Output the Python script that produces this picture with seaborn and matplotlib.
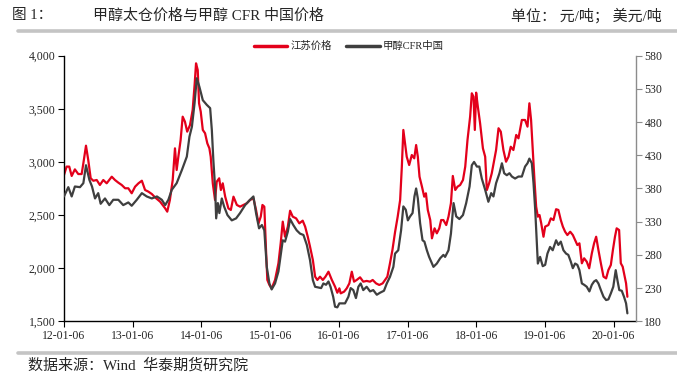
import pandas as pd
import matplotlib
matplotlib.use("Agg")
import matplotlib.pyplot as plt
import matplotlib.dates as mdates
from matplotlib.ticker import FuncFormatter, MultipleLocator
from matplotlib.lines import Line2D
import seaborn as sns

# 江苏价格 (元/吨, left axis)
js_dates = [
    "2012-01-06", "2012-01-20", "2012-02-03", "2012-02-16", "2012-03-04", "2012-03-22", "2012-04-09",
    "2012-04-18", "2012-05-02", "2012-05-14", "2012-05-27", "2012-06-10", "2012-06-28", "2012-07-15",
    "2012-08-02", "2012-08-20", "2012-09-16", "2012-10-03", "2012-10-21", "2012-11-08", "2012-11-26",
    "2012-12-13", "2012-12-31", "2013-01-18", "2013-02-05", "2013-02-23", "2013-03-12", "2013-03-30",
    "2013-04-17", "2013-05-05", "2013-05-31", "2013-06-27", "2013-07-08", "2013-07-22", "2013-08-06",
    "2013-08-18", "2013-08-27", "2013-09-05", "2013-09-17", "2013-09-28", "2013-10-10", "2013-10-22",
    "2013-11-06", "2013-11-20", "2013-12-01", "2013-12-08", "2013-12-17", "2013-12-24", "2014-01-02",
    "2014-01-13", "2014-01-25", "2014-02-06", "2014-02-17", "2014-02-24", "2014-03-07", "2014-03-19",
    "2014-03-28", "2014-04-10", "2014-04-19", "2014-04-29", "2014-05-12", "2014-05-29", "2014-06-11",
    "2014-06-25", "2014-07-13", "2014-07-30", "2014-08-17", "2014-09-04", "2014-09-21", "2014-10-09",
    "2014-10-23", "2014-11-05", "2014-11-17", "2014-11-26", "2014-12-06", "2014-12-15", "2014-12-22",
    "2015-01-02", "2015-01-14", "2015-02-01", "2015-02-19", "2015-03-03", "2015-03-14", "2015-03-26",
    "2015-04-10", "2015-04-22", "2015-05-06", "2015-05-24", "2015-06-10", "2015-06-28", "2015-07-11",
    "2015-07-25", "2015-08-06", "2015-08-21", "2015-09-02", "2015-09-14", "2015-09-28", "2015-10-13",
    "2015-10-27", "2015-11-12", "2015-11-30", "2015-12-17", "2015-12-29", "2016-01-09", "2016-01-16",
    "2016-02-03", "2016-02-17", "2016-03-02", "2016-03-15", "2016-03-27", "2016-04-10", "2016-04-28",
    "2016-05-15", "2016-06-02", "2016-06-20", "2016-07-04", "2016-07-22", "2016-08-08", "2016-08-26",
    "2016-09-08", "2016-09-20", "2016-10-04", "2016-10-17", "2016-10-31", "2016-11-14", "2016-11-27",
    "2016-12-06", "2016-12-14", "2016-12-23", "2017-01-01", "2017-01-14", "2017-01-28", "2017-02-10",
    "2017-02-20", "2017-03-01", "2017-03-10", "2017-03-23", "2017-04-04", "2017-04-13", "2017-04-23",
    "2017-05-06", "2017-05-15", "2017-05-29", "2017-06-10", "2017-06-23", "2017-07-03", "2017-07-15",
    "2017-07-30", "2017-08-11", "2017-08-24", "2017-09-03", "2017-09-16", "2017-09-28", "2017-10-12",
    "2017-10-27", "2017-11-08", "2017-11-20", "2017-12-04", "2017-12-13", "2017-12-22", "2017-12-29",
    "2018-01-05", "2018-01-14", "2018-01-26", "2018-02-10", "2018-02-22", "2018-03-03", "2018-03-15",
    "2018-03-29", "2018-04-11", "2018-04-21", "2018-05-04", "2018-05-16", "2018-05-30", "2018-06-13",
    "2018-06-26", "2018-07-08", "2018-07-22", "2018-08-06", "2018-08-18", "2018-09-05", "2018-09-22",
    "2018-10-05", "2018-10-15", "2018-10-24", "2018-11-02", "2018-11-11", "2018-11-20", "2018-11-29",
    "2018-12-08", "2018-12-17", "2018-12-29", "2019-01-07", "2019-01-24", "2019-02-06", "2019-02-20",
    "2019-03-06", "2019-03-18", "2019-03-31", "2019-04-11", "2019-04-23", "2019-05-05", "2019-05-20",
    "2019-06-03", "2019-06-15", "2019-06-27", "2019-07-08", "2019-07-21", "2019-08-02", "2019-08-16",
    "2019-08-29", "2019-09-12", "2019-09-24", "2019-10-05", "2019-10-17", "2019-10-30", "2019-11-13",
    "2019-11-27", "2019-12-09", "2019-12-22", "2020-01-02", "2020-01-13", "2020-01-22", "2020-02-04",
    "2020-02-13", "2020-02-23", "2020-03-05", "2020-03-12", "2020-03-19",
]
js_vals = [
    2877, 2956, 2956, 2868, 2930, 2886, 2886,
    2987, 3153, 3018, 2846, 2823, 2830, 2783,
    2830, 2799, 2861, 2830, 2805, 2783, 2752,
    2752, 2705, 2767, 2799, 2823, 2736, 2720,
    2698, 2665, 2626, 2563, 2532, 2642, 2830,
    3128, 2924, 3049, 3206, 3426, 3379, 3285,
    3348, 3489, 3740, 3928, 3865, 3552, 3473,
    3301, 3270, 3175, 3128, 3049, 2799, 2642,
    2814, 2846, 2736, 2799, 2673, 2563, 2548,
    2673, 2595, 2579, 2595, 2611, 2642, 2658,
    2548, 2422, 2485, 2595, 2579, 2171, 1889,
    1842, 1810, 1889, 2046, 2234, 2438, 2296,
    2391, 2541, 2485, 2469, 2422, 2447, 2391,
    2296, 2202, 2077, 1920, 1889, 1920, 1889,
    1920, 1967, 1889, 1826, 1769, 1810, 1763,
    1779, 1810, 1857, 1967, 1873, 1889, 1914,
    1873, 1880, 1873, 1889, 1857, 1842, 1857,
    1889, 1920, 2046, 2171, 2340, 2485, 2642,
    2955, 3301, 3175, 3049, 2971, 3065, 3034,
    3159, 3049, 2861, 2767, 2673, 2705, 2548,
    2453, 2281, 2375, 2328, 2375, 2453, 2453,
    2406, 2485, 2611, 2868, 2736, 2767, 2783,
    2830, 2955, 3206, 3426, 3646, 3614, 3301,
    3652, 3520, 3364, 3128, 3049, 2736, 2799,
    2893, 3018, 3112, 3317, 3285, 3112, 3002,
    3049, 3143, 3112, 3254, 3222, 3395, 3395,
    3332, 3552, 3395, 3112, 2830, 2579, 2485,
    2500, 2422, 2296, 2391, 2406, 2469, 2453,
    2555, 2548, 2453, 2391, 2343, 2312, 2343,
    2312, 2265, 2218, 2234, 2046, 2093, 2061,
    1999, 2140, 2234, 2296, 2171, 2046, 1920,
    1904, 1983, 2030, 2171, 2296, 2375, 2359,
    2046, 2014, 1920, 1857, 1731,
]

# 甲醇CFR中国 (美元/吨, right axis)
cfr_dates = [
    "2012-01-06", "2012-01-29", "2012-02-16", "2012-03-04", "2012-03-31", "2012-04-18", "2012-05-02",
    "2012-05-20", "2012-06-03", "2012-06-19", "2012-07-06", "2012-07-19", "2012-08-11", "2012-09-03",
    "2012-09-24", "2012-10-21", "2012-11-16", "2012-12-13", "2012-12-31", "2013-01-27", "2013-02-23",
    "2013-03-21", "2013-04-17", "2013-05-14", "2013-06-09", "2013-06-27", "2013-07-14", "2013-08-01",
    "2013-08-27", "2013-09-24", "2013-10-20", "2013-11-03", "2013-11-16", "2013-11-30", "2013-12-12",
    "2013-12-26", "2014-01-13", "2014-02-03", "2014-02-21", "2014-03-02", "2014-03-10", "2014-03-19",
    "2014-03-25", "2014-04-03", "2014-04-11", "2014-04-24", "2014-05-06", "2014-05-24", "2014-06-16",
    "2014-07-09", "2014-07-30", "2014-08-26", "2014-09-21", "2014-10-09", "2014-10-23", "2014-11-08",
    "2014-11-23", "2014-12-06", "2014-12-19", "2015-01-02", "2015-01-14", "2015-02-01", "2015-02-19",
    "2015-03-03", "2015-03-14", "2015-03-26", "2015-04-10", "2015-04-22", "2015-05-09", "2015-05-27",
    "2015-06-14", "2015-07-02", "2015-07-20", "2015-08-06", "2015-08-21", "2015-09-02", "2015-09-19",
    "2015-10-04", "2015-10-16", "2015-10-30", "2015-11-12", "2015-11-23", "2015-12-07", "2015-12-17",
    "2015-12-29", "2016-01-09", "2016-02-08", "2016-02-26", "2016-03-09", "2016-03-23", "2016-04-06",
    "2016-04-19", "2016-05-01", "2016-05-15", "2016-06-02", "2016-06-20", "2016-07-07", "2016-07-26",
    "2016-08-12", "2016-09-02", "2016-09-17", "2016-10-04", "2016-10-22", "2016-10-31", "2016-11-17",
    "2016-12-02", "2016-12-14", "2016-12-27", "2017-01-07", "2017-01-19", "2017-02-01", "2017-02-11",
    "2017-02-20", "2017-03-01", "2017-03-13", "2017-03-26", "2017-04-05", "2017-04-18", "2017-04-30",
    "2017-05-11", "2017-05-23", "2017-06-10", "2017-06-28", "2017-07-15", "2017-07-24", "2017-08-11",
    "2017-08-24", "2017-09-07", "2017-09-21", "2017-10-08", "2017-10-27", "2017-11-13", "2017-12-01",
    "2017-12-13", "2017-12-25", "2018-01-09", "2018-01-22", "2018-02-04", "2018-02-22", "2018-03-11",
    "2018-03-26", "2018-04-07", "2018-04-21", "2018-05-09", "2018-05-22", "2018-06-03", "2018-06-17",
    "2018-07-01", "2018-07-14", "2018-07-31", "2018-08-18", "2018-09-05", "2018-09-22", "2018-10-05",
    "2018-10-15", "2018-10-28", "2018-11-06", "2018-11-15", "2018-11-24", "2018-11-29", "2018-12-11",
    "2018-12-25", "2019-01-07", "2019-01-19", "2019-02-02", "2019-02-16", "2019-03-06", "2019-03-18",
    "2019-03-31", "2019-04-14", "2019-04-28", "2019-05-10", "2019-05-23", "2019-06-03", "2019-06-15",
    "2019-06-27", "2019-07-08", "2019-07-21", "2019-08-02", "2019-08-16", "2019-08-30", "2019-09-12",
    "2019-09-24", "2019-10-05", "2019-10-17", "2019-10-30", "2019-11-13", "2019-11-27", "2019-12-09",
    "2019-12-22", "2020-01-04", "2020-01-17", "2020-01-26", "2020-02-05", "2020-02-18", "2020-03-01",
    "2020-03-12", "2020-03-19",
]
cfr_vals = [
    368, 382, 368, 383, 382, 388, 415,
    393, 383, 365, 373, 357, 365, 355,
    363, 363, 355, 359, 354, 363, 373,
    368, 365, 368, 363, 355, 363, 378,
    388, 408, 428, 458, 473, 508, 546,
    533, 513, 506, 501, 468, 423, 383,
    335, 358, 343, 365, 353, 340, 332,
    335, 343, 355, 363, 368, 343, 320,
    325, 317, 262, 237, 228, 237, 255,
    280, 302, 300, 315, 334, 325, 317,
    312, 310, 295, 272, 242, 232, 231,
    230, 237, 235, 240, 232, 217, 202,
    201, 207, 207, 217, 230, 227, 215,
    232, 237, 227, 232, 225, 227, 220,
    223, 226, 237, 247, 262, 282, 287,
    317, 353, 348, 332, 338, 343, 368,
    380, 365, 328, 302, 300, 287, 277,
    270, 262, 267, 275, 280, 277, 287,
    312, 358, 338, 334, 340, 358, 383,
    415, 420, 413, 413, 395, 378, 360,
    373, 368, 388, 403, 418, 403, 400,
    403, 398, 395, 398, 398, 413, 418,
    425, 418, 388, 348, 297, 267, 277,
    263, 265, 282, 292, 287, 302, 295,
    300, 287, 282, 280, 270, 260, 267,
    265, 257, 237, 235, 232, 225, 235,
    240, 242, 237, 227, 217, 212, 213,
    222, 232, 257, 242, 227, 226, 217,
    207, 192,
]

tick_dates = ["2012-01-06", "2013-01-06", "2014-01-06", "2015-01-06", "2016-01-06",
              "2017-01-06", "2018-01-06", "2019-01-06", "2020-01-06"]
right_ticks = [180, 230, 280, 330, 380, 430, 480, 530, 580]

js = pd.DataFrame({"date": pd.to_datetime(js_dates), "price": js_vals})
cfr = pd.DataFrame({"date": pd.to_datetime(cfr_dates), "price": cfr_vals})

sns.set_style("white")
# serif for latin text, CJK glyphs fall back to Noto Sans CJK
plt.rcParams["font.family"] = ["Liberation Serif", "Noto Sans CJK SC"]

red = "#e3001b"
grey = "#3f3f3f"

fig = plt.figure(figsize=(6.77, 3.75), dpi=100)
ax = fig.add_axes([0.0945, 0.1432, 0.845, 0.7083])
ax2 = ax.twinx()

sns.lineplot(data=js, x="date", y="price", ax=ax, color=red, linewidth=1.6)
sns.lineplot(data=cfr, x="date", y="price", ax=ax2, color=grey, linewidth=1.6)

ax.set_ylim(1500, 4000)
ax.yaxis.set_major_locator(MultipleLocator(500))
ax.yaxis.set_major_formatter(FuncFormatter(lambda v, p: f"{v:,.0f}"))
ax2.set_ylim(180, 580)
ax2.set_yticks(right_ticks)

ax.set_xlim(pd.Timestamp("2012-01-06"), pd.Timestamp("2020-05-04"))
ax.set_xticks(pd.to_datetime(tick_dates))
ax.xaxis.set_major_formatter(mdates.DateFormatter("%y-%m-%d"))

for a in (ax, ax2):
    a.set_xlabel("")
    a.set_ylabel("")
    a.spines["top"].set_visible(False)

ax.spines["left"].set_color("black")
ax.spines["bottom"].set_color("black")
ax.spines["right"].set_visible(False)
ax2.spines["left"].set_visible(False)
ax2.spines["bottom"].set_visible(False)
ax2.spines["right"].set_color("#8c8c8c")
for s in ("left", "bottom"):
    ax.spines[s].set_linewidth(1.0)
ax2.spines["right"].set_linewidth(1.0)

ax.tick_params(axis="both", direction="out", length=4, width=0.8, color="black",
               labelsize=8.5, pad=2, left=True, bottom=True)
ax2.tick_params(axis="y", direction="out", length=4, width=0.8, color="#8c8c8c",
                labelsize=8.5, pad=2, right=True)

handles = [Line2D([], [], color=red, linewidth=2.5), Line2D([], [], color=grey, linewidth=2.5)]
fig.legend(handles, ["江苏价格", "甲醇CFR中国"], loc="center", bbox_to_anchor=(0.515, 0.877),
           ncol=2, frameon=False, fontsize=7.5, handlelength=3.2, handletextpad=0.3,
           columnspacing=1.4)

# header and footer
hy = 1 - 16 / 375
fig.text(12 / 677, hy, "图 1：", fontsize=10.5, va="center", ha="left")
fig.text(93 / 677, hy, "甲醇太仓价格与甲醇 CFR 中国价格", fontsize=10.8, va="center", ha="left")
fig.text(662 / 677, hy, "单位： 元/吨； 美元/吨", fontsize=10.8, va="center", ha="right")
fig.text(28 / 677, 1 - 365 / 375, "数据来源：Wind  华泰期货研究院", fontsize=10.8, va="center", ha="left")
fig.add_artist(Line2D([18 / 677, 1], [1 - 31 / 375, 1 - 31 / 375], color="#c4c4c4", linewidth=2.6,
                      transform=fig.transFigure))
fig.add_artist(Line2D([18 / 677, 1], [1 - 352.5 / 375, 1 - 352.5 / 375], color="#c4c4c4", linewidth=2.6,
                      transform=fig.transFigure))

fig.savefig("out.png", dpi=100)
